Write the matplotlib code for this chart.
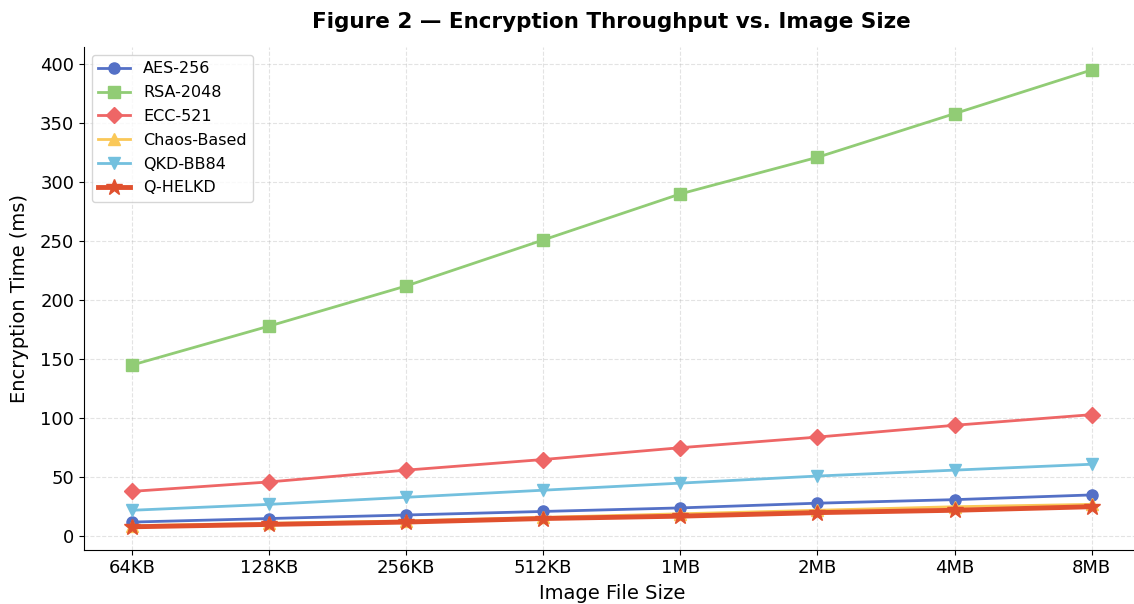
import matplotlib.pyplot as plt
import numpy as np

sizes = ['64KB', '128KB', '256KB', '512KB', '1MB', '2MB', '4MB', '8MB']
aes = [12, 15, 18, 21, 24, 28, 31, 35]
rsa = [145, 178, 212, 251, 290, 321, 358, 395]
ecc = [38, 46, 56, 65, 75, 84, 94, 103]
chaos = [9, 11, 13, 16, 19, 22, 25, 27]
qkd = [22, 27, 33, 39, 45, 51, 56, 61]
qhelkd = [8, 10, 12, 15, 17, 20, 22, 25]

x = np.arange(len(sizes))

fig, ax = plt.subplots(figsize=(11.34, 6.04), dpi=100)

ax.plot(x, aes, marker='o', color='#5470c6', lw=2, ms=8, label='AES-256')
ax.plot(x, rsa, marker='s', color='#91cc75', lw=2, ms=8, label='RSA-2048')
ax.plot(x, ecc, marker='D', color='#ee6666', lw=2, ms=8, label='ECC-521')
ax.plot(x, chaos, marker='^', color='#fac858', lw=2, ms=8, label='Chaos-Based')
ax.plot(x, qkd, marker='v', color='#73c0de', lw=2, ms=8, label='QKD-BB84')
ax.plot(x, qhelkd, marker='*', color='#e0502e', lw=3.5, ms=12, label='Q-HELKD')

ax.set_xticks(x)
ax.set_xticklabels(sizes, fontsize=13)
ax.tick_params(axis='y', labelsize=13)
ax.set_xlabel('Image File Size', fontsize=14, labelpad=5)
ax.set_ylabel('Encryption Time (ms)', fontsize=14, labelpad=8)
ax.set_title('Figure 2 — Encryption Throughput vs. Image Size', fontsize=15.5, fontweight='bold', pad=14)
ax.grid(True, linestyle='--', alpha=0.35)
ax.spines['top'].set_visible(False)
ax.spines['right'].set_visible(False)
ax.legend(loc='upper left', fontsize=11.5, labelspacing=0.55)

plt.subplots_adjust(left=0.074, right=1.005, top=0.922, bottom=0.09)
plt.savefig('out.png')
